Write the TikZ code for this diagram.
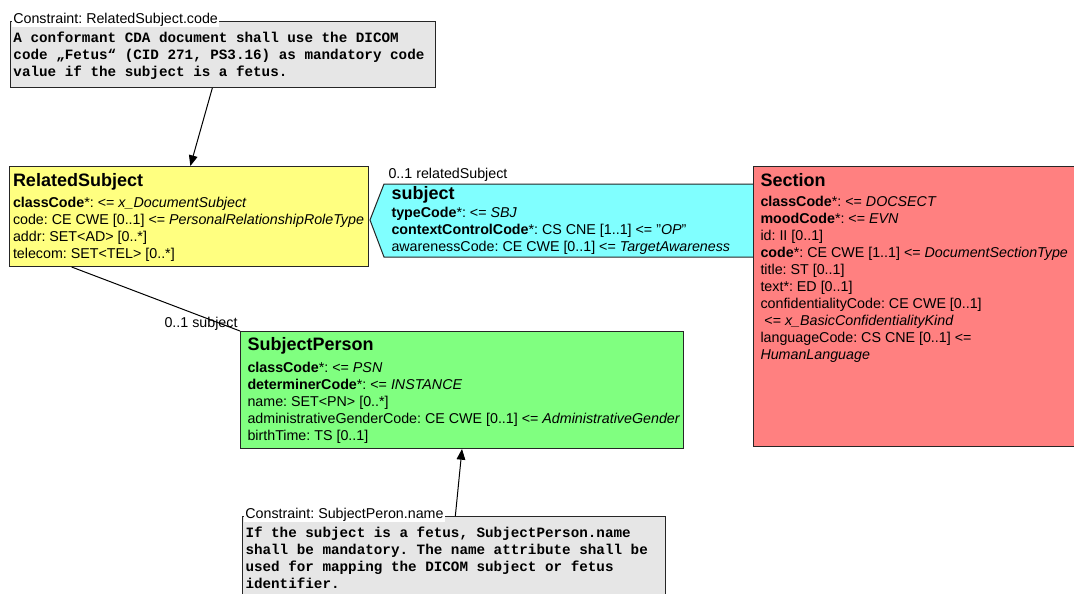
\documentclass[tikz,border=0pt]{standalone}
\usepackage{fontspec}
\setmainfont{Liberation Sans}
\setmonofont{Liberation Mono}
\usepackage{tikz}
\usetikzlibrary{arrows.meta}
\frenchspacing
\definecolor{actYellow}{HTML}{FFFF80}
\definecolor{partCyan}{HTML}{80FFFF}
\definecolor{actRed}{HTML}{FF8080}
\definecolor{entGreen}{HTML}{80FF80}
\definecolor{noteGray}{HTML}{E6E6E6}
\tikzset{%
  >={Triangle[width=6.5pt,length=8pt]},
  % Specifications for style of nodes:
          base/.style = {rectangle, draw=black!85, line width=0.75pt,
                         anchor=north west, inner sep=0pt},
      classBox/.style = {base},
     constrBox/.style = {base, fill=noteGray},
     className/.style = {anchor=base west, inner sep=0pt,
                         font=\fontsize{13.5}{16}\selectfont\bfseries},
     classAttr/.style = {anchor=north west, inner sep=0pt, align=left,
                         font=\fontsize{10.7}{12.75}\selectfont},
    constrText/.style = {anchor=north west, inner sep=0pt, align=left,
                         font=\fontsize{10.7}{12.75}\selectfont\ttfamily\bfseries},
   constrTitle/.style = {anchor=base west, fill=white, inner xsep=1pt, inner ysep=1pt,
                         font=\fontsize{10.7}{12.75}\selectfont},
     roleLabel/.style = {anchor=base west, inner sep=0pt,
                         font=\fontsize{10.7}{12.75}\selectfont},
}

\begin{document}
\begin{tikzpicture}[x=0.75pt, y=-0.75pt, line width=0.75pt]
\useasboundingbox (0,0) rectangle (1074,593);

% constraint on RelatedSubject
\node (con1) at (10,21) [constrBox, minimum width=318.75pt, minimum height=49.5pt] {};
\node (con1Title) at (11.5,23) [constrTitle] {Constraint: RelatedSubject.code};
\node (con1Text) at (13,30.1) [constrText]
  {\strut A conformant CDA document shall use the DICOM\\
   code „Fetus“ (CID 271, PS3.16) as mandatory code\\
   value if the subject is a fetus.};

% RelatedSubject
\node (relSubj) at (9,166) [classBox, fill=actYellow, minimum width=269.25pt, minimum height=75pt] {};
\node (relSubjName) at (12.5,186) [className] {RelatedSubject};
\node (relSubjAttr) at (12.5,195.1) [classAttr]
  {\strut\textbf{classCode}*: <= \textit{x\_DocumentSubject}\\
   code: CE CWE [0..1] <= \textit{PersonalRelationshipRoleType}\\
   addr: SET<AD> [0..*]\\
   telecom: SET<TEL> [0..*]};

% subject participation
\draw[fill=partCyan, draw=black!85] (370,220) -- (384,184) -- (760,184) -- (760,257) -- (384,257) -- cycle;
\node (subjName) at (391,199) [className] {subject};
\node (subjAttr) at (391,205.1) [classAttr]
  {\strut\textbf{typeCode}*: <= \textit{SBJ}\\
   \textbf{contextControlCode}*: CS CNE [1..1] <= "\textit{OP}"\\
   awarenessCode: CE CWE [0..1] <= \textit{TargetAwareness}};
\node (relRole) at (388,178) [roleLabel] {0..1 relatedSubject};

% Section
\node (section) at (753,166) [classBox, fill=actRed, minimum width=247.5pt, minimum height=210pt] {};
\node (sectionName) at (760,186) [className] {Section};
\node (sectionAttr) at (760,194.1) [classAttr]
  {\strut\textbf{classCode}*: <= \textit{DOCSECT}\\
   \textbf{moodCode}*: <= \textit{EVN}\\
   id: II [0..1]\\
   \textbf{code}*: CE CWE [1..1] <= \textit{DocumentSectionType}\\
   title: ST [0..1]\\
   text*: ED [0..1]\\
   confidentialityCode: CE CWE [0..1]\\
   \ <= \textit{x\_BasicConfidentialityKind}\\
   languageCode: CS CNE [0..1] <=\\
   \textit{HumanLanguage}};

% SubjectPerson
\node (subjPerson) at (240,331) [classBox, fill=entGreen, minimum width=332.25pt, minimum height=87.75pt] {};
\node (subjPersonName) at (247,350) [className] {SubjectPerson};
\node (subjPersonAttr) at (247,360.1) [classAttr]
  {\strut\textbf{classCode}*: <= \textit{PSN}\\
   \textbf{determinerCode}*: <= \textit{INSTANCE}\\
   name: SET<PN> [0..*]\\
   administrativeGenderCode: CE CWE [0..1] <= \textit{AdministrativeGender}\\
   birthTime: TS [0..1]};

% constraint on SubjectPerson
\node (con2) at (242,516) [constrBox, minimum width=317.25pt, minimum height=67.5pt] {};
\node (con2Title) at (243.5,518) [constrTitle] {Constraint: SubjectPeron.name};
\node (con2Text) at (245,525.1) [constrText]
  {\strut If the subject is a fetus, SubjectPerson.name\\
   shall be mandatory. The name attribute shall be\\
   used for mapping the DICOM subject or fetus\\
   identifier.};

\draw[->]     ([xshift=-8pt] con1.south) -- ([xshift=1pt] relSubj.north);
\draw         ([xshift=47pt] relSubj.south west) -- (subjPerson.north west);
\node (subjRole) at ([xshift=-1.5pt, yshift=3pt] subjPerson.north west) [roleLabel, anchor=base east] {0..1 subject};
\draw[->]     ([xshift=1pt] con2.north) -- (subjPerson.south);
\end{tikzpicture}
\end{document}
